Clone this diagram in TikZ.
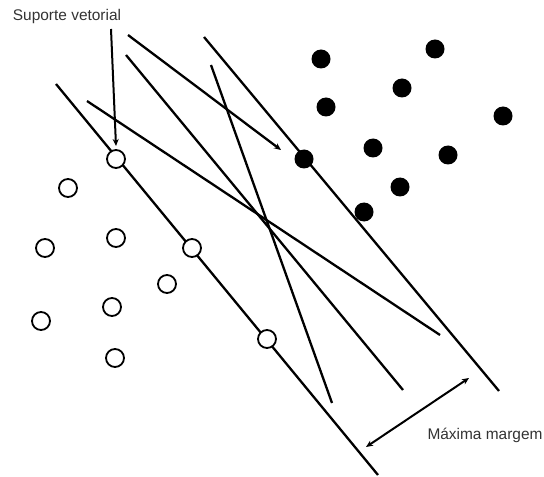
\documentclass[tikz,border=0pt]{standalone}
\usepackage{fontspec}
\setmainfont{Liberation Sans}
\usetikzlibrary{arrows.meta}
\begin{document}
\begin{tikzpicture}[x=1bp,y=-1bp,
  ln/.style={line width=2.3bp,black},
  open/.style={circle,draw=black,fill=white,line width=1.8bp,minimum size=18bp,inner sep=0pt},
  full/.style={circle,fill=black,minimum size=19bp,inner sep=0pt},
  lbl/.style={text=black!80,font=\fontsize{15.5}{18}\selectfont,inner sep=0pt},
  tip/.style={line width=2bp,black}]
\useasboundingbox (0,0) rectangle (544,477);
% line endpoints
\coordinate (a1) at (56,84);   \coordinate (a2) at (378,475);
\coordinate (b1) at (204,37);  \coordinate (b2) at (499,391);
\coordinate (c1) at (128,35);  \coordinate (c2) at (281,150);
\coordinate (d1) at (126,55);  \coordinate (d2) at (403,390);
\coordinate (e1) at (211,65);  \coordinate (e2) at (332,403);
\coordinate (f1) at (87,101);  \coordinate (f2) at (440,335);
\coordinate (s1) at (111,29);  \coordinate (s2) at (116,146);
\coordinate (m1) at (366,447); \coordinate (m2) at (469,378);
\draw[ln] (a1) -- (a2);
\draw[ln] (b1) -- (b2);
\draw[ln,-{Stealth[length=7bp,width=6bp]}] (c1) -- (c2);
\draw[ln] (d1) -- (d2);
\draw[ln] (e1) -- (e2);
\draw[ln] (f1) -- (f2);
\draw[tip,-{Stealth[length=7bp,width=6bp]}] (s1) -- (s2);
\draw[tip,{Stealth[length=7bp,width=6bp]}-{Stealth[length=7bp,width=6bp]}] (m1) -- (m2);
% open circles
\node[open] (o1) at (116,159) {};
\node[open] (o2) at (68,188) {};
\node[open] (o3) at (116,238) {};
\node[open] (o4) at (45,248) {};
\node[open] (o5) at (192,248) {};
\node[open] (o6) at (167,284) {};
\node[open] (o7) at (112,307) {};
\node[open] (o8) at (41,321) {};
\node[open] (o9) at (115,358) {};
\node[open] (o10) at (267,339) {};
% filled dots
\node[full] (p1) at (321,59) {};
\node[full] (p2) at (435,49) {};
\node[full] (p3) at (402,88) {};
\node[full] (p4) at (326,107) {};
\node[full] (p5) at (503,116) {};
\node[full] (p6) at (373,148) {};
\node[full] (p7) at (448,155) {};
\node[full] (p8) at (304,159) {};
\node[full] (p9) at (400,187) {};
\node[full] (p10) at (364,212) {};
% labels
\node[lbl] (t1) at (67,17) {Suporte vetorial};
\node[lbl] (t2) at (485,435) {Máxima margem};
\end{tikzpicture}
\end{document}
